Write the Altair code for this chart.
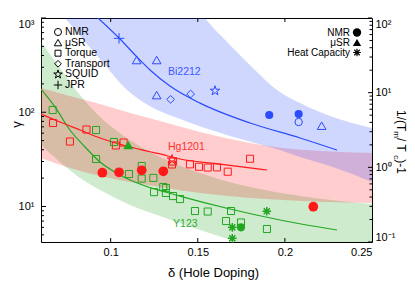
import altair as alt
import pandas as pd

FONT = "Liberation Sans"
BLUE = "#2a4bff"
RED = "#ff1a1a"
GREEN = "#22a622"

# ---------------- data ----------------
delta_domain = [0.06, 0.25]
gamma_domain = [4.2, 1000]
ratio_domain = [0.1, 100]

# open symbols, left axis (gamma)
bi_method = ["JPR", "μSR", "μSR", "μSR", "μSR", "Transport", "Transport", "SQUID", "NMR"]
bi_delta = [0.1048, 0.1149, 0.1264, 0.1264, 0.2211, 0.1344, 0.1459, 0.1599, 0.2079]
bi_gamma = [609, 358, 358, 152, 72.0, 137, 156, 169, 78.8]

hg_method = ["Torque"] * 13 + ["SQUID"]
hg_delta = [0.0669, 0.0766, 0.0861, 0.1030, 0.1074, 0.1352, 0.1358, 0.1455, 0.1507,
            0.1557, 0.1610, 0.1672, 0.1800, 0.1352]
hg_gamma = [76.9, 48.9, 65.6, 44.4, 47.7, 27.9, 30.0, 28.0, 26.4, 25.9, 26.0, 23.4, 32.1, 31.5]

y_method = ["Torque"] * 20
y_delta = [0.0667, 0.0916, 0.1019, 0.0916, 0.1105, 0.1178, 0.1178, 0.1245, 0.1302, 0.1317,
           0.1249, 0.1317, 0.1358, 0.1398, 0.1484, 0.1557, 0.1691, 0.1662, 0.1748, 0.1897]
y_gamma = [105.6, 64.8, 48.3, 31.9, 22.1, 26.9, 19.8, 20.1, 16.1, 15.7,
           14.2, 13.9, 12.9, 12.0, 8.95, 8.84, 8.95, 7.01, 6.76, 5.77]

# filled symbols, right axis (1/(Tm/Tc)-1)
nmr_series = ["Bi2212", "Bi2212", "Hg1201", "Hg1201", "Hg1201", "Hg1201", "Hg1201", "Y123"]
nmr_delta = [0.1910, 0.2079, 0.0952, 0.1048, 0.1178, 0.1302, 0.2163, 0.1748]
nmr_ratio = [5.02, 5.18, 0.847, 0.858, 0.913, 0.885, 0.297, 0.157]
musr_delta = [0.1101]
musr_ratio = [1.99]
heat_delta = [0.1698, 0.1896, 0.1698]
heat_ratio = [0.157, 0.258, 0.112]

# fitted curves
bi_line_delta = [0.0927, 0.1048, 0.1151, 0.1226, 0.1340, 0.1513, 0.1800, 0.2087, 0.2299]
bi_line_gamma = [1000, 613, 386, 281, 190, 125, 76.9, 53.3, 39.7]
hg_line_delta = [0.0600, 0.0709, 0.0824, 0.0939, 0.1111, 0.1283, 0.1398, 0.1627, 0.1897]
hg_line_gamma = [95.8, 78.8, 64.8, 53.3, 42.8, 36.1, 31.9, 28.2, 24.4]
y_line_delta = [0.0600, 0.0680, 0.0766, 0.0853, 0.0939, 0.1053, 0.1168, 0.1398, 0.1685, 0.1972, 0.2299]
y_line_gamma = [176, 114, 64.8, 42.8, 29.6, 21.6, 17.3, 12.9, 9.40, 7.19, 5.63]

# shaded bands
bi_band_delta = [0.0738, 0.0853, 0.0967, 0.1082, 0.1226, 0.1369, 0.1541, 0.1685, 0.1828,
                 0.1955, 0.2087, 0.2259, 0.2500]
bi_band_hi = [3000, 3000, 3000, 3000, 3000, 3000, 1000, 517, 281, 172, 125, 91.2, 68.0]
bi_band_lo = [1000, 556, 317, 181, 116, 89.0, 68.0, 56.0, 47.2, 40.7, 33.5, 26.9, 18.2]
hg_band_delta = [0.0600, 0.0766, 0.0939, 0.1111, 0.1283, 0.1513, 0.1800, 0.1989, 0.2201, 0.2500]
hg_band_hi = [181, 149, 122, 98.1, 80.7, 61.7, 47.2, 41.7, 38.8, 36.9]
hg_band_lo = [32.7, 25.6, 21.1, 18.2, 16.1, 13.9, 12.3, 11.7, 11.2, 10.9]
y_band_delta = [0.0600, 0.0709, 0.0824, 0.0939, 0.1111, 0.1283, 0.1513, 0.1725, 0.1800, 0.2087, 0.2500]
y_band_hi = [556, 295, 152, 89.0, 50.7, 33.5, 22.7, 17.3, 16.1, 12.9, 10.6]
y_band_lo = [44.9, 29.6, 20.1, 15.0, 10.4, 7.93, 5.63, 4.20, 3.81, 2.58, 1.47]

# series labels
series_names = ["Bi2212", "Hg1201", "Y123"]
series_label_delta = [0.1329, 0.1329, 0.1358]
series_label_gamma = [267, 42.8, 6.52]

# axis ticks
x_ticks = [0.1, 0.15, 0.2]
left_major = [10, 100, 1000]
left_minor = [5, 6, 7, 8, 9, 20, 30, 40, 50, 60, 70, 80, 90, 200, 300, 400, 500, 600, 700, 800, 900]
right_major = [0.1, 1, 10, 100]
right_minor = [0.2, 0.3, 0.4, 0.5, 0.6, 0.7, 0.8, 0.9, 2, 3, 4, 5, 6, 7, 8, 9,
               20, 30, 40, 50, 60, 70, 80, 90]

left_legend = ["NMR", "μSR", "Torque", "Transport", "SQUID", "JPR"]
right_legend = ["NMR", "μSR", "Heat Capacity"]

# ---------------- chart ----------------
W, H = 331, 224
STAR = "M0,-1L0.2245,-0.309L0.9511,-0.309L0.3633,0.118L0.5878,0.809L0,0.382L-0.5878,0.809L-0.3633,0.118L-0.9511,-0.309L-0.2245,-0.309Z"
PLUS = "M-1,0L1,0M0,-1L0,1"
ASTER = "M-1,0L1,0M0,-1L0,1M-0.7,-0.7L0.7,0.7M-0.7,0.7L0.7,-0.7"
color_scale = alt.Scale(domain=series_names, range=[BLUE, RED, GREEN])

x_scale = alt.Scale(domain=delta_domain, nice=False, zero=False)
y_scale = alt.Scale(type="log", domain=gamma_domain, nice=False)
r_scale = alt.Scale(type="log", domain=ratio_domain, nice=False)

x_axis = alt.Axis(title="δ (Hole Doping)", values=[0.1, 0.15, 0.2, 0.25], format=".2~f",
                  ticks=False, tickSize=0, domain=False, grid=False, labelFlush=True,
                  labelPadding=4, labelFontSize=11, titleFontSize=13, titleX=172, titleY=30,
                  titleAlign="center", titleBaseline="middle")
y_axis = alt.Axis(title="γ", values=[10, 100, 1000],
                  labelExpr="datum.value > 500 ? '10³' : datum.value > 50 ? '10²' : '10¹'",
                  ticks=False, tickSize=0, domain=False, grid=False, labelFlush=True,
                  labelPadding=7, labelFontSize=11, titleFontSize=13, titleX=-25, titleY=106,
                  titleAngle=270, titleAlign="center", titleBaseline="middle")
r_axis = alt.Axis(orient="right", title="", values=[0.1, 1, 10, 100],
                  labelExpr="datum.value < 0.5 ? '10⁻¹' : datum.value < 5 ? '10⁰' : datum.value < 50 ? '10¹' : '10²'",
                  ticks=False, tickSize=0, domain=False, grid=False, labelFlush=True,
                  labelPadding=3, labelFontSize=11)


def X(field="delta"):
    return alt.X(f"{field}:Q", scale=x_scale, axis=x_axis)


def YL(field="gamma"):
    return alt.Y(f"{field}:Q", scale=y_scale, axis=y_axis)


def YR(field="ratio"):
    return alt.Y(f"{field}:Q", scale=r_scale, axis=r_axis)


ONE = pd.DataFrame({"k": [0]})

left_layers = []

# bands
for d, hi, lo, col in [(y_band_delta, y_band_hi, y_band_lo, GREEN),
                       (hg_band_delta, hg_band_hi, hg_band_lo, RED),
                       (bi_band_delta, bi_band_hi, bi_band_lo, BLUE)]:
    df = pd.DataFrame({"delta": d, "hi": hi, "lo": lo})
    left_layers.append(
        alt.Chart(df).mark_area(clip=True, opacity=0.22, color=col, interpolate="monotone")
        .encode(x=X(), y=YL("hi"), y2=alt.Y2("lo:Q"))
    )

# lines
for d, g, col in [(y_line_delta, y_line_gamma, GREEN), (hg_line_delta, hg_line_gamma, RED),
                  (bi_line_delta, bi_line_gamma, BLUE)]:
    df = pd.DataFrame({"delta": d, "gamma": g})
    left_layers.append(
        alt.Chart(df).mark_line(clip=True, color=col, strokeWidth=1.2, interpolate="monotone")
        .encode(x=X(), y=YL())
    )

# open symbols
open_df = pd.DataFrame({
    "series": ["Bi2212"] * len(bi_delta) + ["Hg1201"] * len(hg_delta) + ["Y123"] * len(y_delta),
    "method": bi_method + hg_method + y_method,
    "delta": bi_delta + hg_delta + y_delta,
    "gamma": bi_gamma + hg_gamma + y_gamma,
})
method_style = {"NMR": ("circle", 55), "μSR": ("triangle-up", 75), "Torque": ("square", 50),
                "Transport": ("diamond", 60), "SQUID": (STAR, 100), "JPR": (PLUS, 110)}
for m, (shp, sz) in method_style.items():
    sub = open_df[open_df["method"] == m]
    if len(sub) == 0:
        continue
    left_layers.append(
        alt.Chart(sub).mark_point(filled=False, shape=shp, size=sz, strokeWidth=1, opacity=1)
        .encode(x=X(), y=YL(), color=alt.Color("series:N", scale=color_scale, legend=None))
    )

# series labels
lab_df = pd.DataFrame({"series": series_names, "delta": series_label_delta, "gamma": series_label_gamma})
left_layers.append(
    alt.Chart(lab_df).mark_text(align="left", baseline="middle", fontSize=10.5, font=FONT, opacity=0.9)
    .encode(x=X(), y=YL(), text="series:N", color=alt.Color("series:N", scale=color_scale, legend=None))
)

# inward ticks
left_layers.append(alt.Chart(pd.DataFrame({"gamma": left_major})).mark_rule(color="black")
                   .encode(y=YL(), x=alt.value(0), x2=alt.value(5)))
left_layers.append(alt.Chart(pd.DataFrame({"gamma": left_minor})).mark_rule(color="black")
                   .encode(y=YL(), x=alt.value(0), x2=alt.value(3)))
left_layers.append(alt.Chart(pd.DataFrame({"delta": x_ticks})).mark_rule(color="black")
                   .encode(x=X(), y=alt.value(0), y2=alt.value(4)))
left_layers.append(alt.Chart(pd.DataFrame({"delta": x_ticks})).mark_rule(color="black")
                   .encode(x=X(), y=alt.value(H), y2=alt.value(H - 4)))

# left legend (open symbols)
left_shapes = [("circle", 50), ("triangle-up", 55), ("square", 35), ("diamond", 45), (STAR, 80), (PLUS, 70)]
for i, (lab, (shp, sz)) in enumerate(zip(left_legend, left_shapes)):
    yy = 14 + 10.6 * i
    left_layers.append(alt.Chart(ONE).mark_point(filled=False, shape=shp, size=sz, color="black",
                                                  strokeWidth=1, opacity=1)
                       .encode(x=alt.value(17), y=alt.value(yy)))
    left_layers.append(alt.Chart(ONE).mark_text(align="left", baseline="middle", fontSize=10.5,
                                                 font=FONT, color="black")
                       .encode(x=alt.value(24), y=alt.value(yy), text=alt.value(lab)))

# right legend (filled symbols)
right_shapes = [("circle", 70, True), ("triangle-up", 70, True), (ASTER, 60, False)]
for i, (lab, (shp, sz, fl)) in enumerate(zip(right_legend, right_shapes)):
    yy = 14.5 + 10.0 * i
    left_layers.append(alt.Chart(ONE).mark_point(filled=fl, shape=shp, size=sz, color="black",
                                                  strokeWidth=1.2, opacity=1)
                       .encode(x=alt.value(316), y=alt.value(yy)))
    left_layers.append(alt.Chart(ONE).mark_text(align="right", baseline="middle", fontSize=10,
                                                 font=FONT, color="black")
                       .encode(x=alt.value(309), y=alt.value(yy), text=alt.value(lab)))

# right axis title 1/(T_m / T_c )-1, drawn rotated in pieces for the subscripts
title_pieces = [("1/(T", 12, 0), ("m", 8, 1), (" / T", 12, 0), ("c", 8, 1), (" )-1", 12, 0)]
piece_len = [21.3, 6.7, 17.3, 4.0, 18.0]
yy = 92
for (txt, fs, is_sub), ln in zip(title_pieces, piece_len):
    left_layers.append(alt.Chart(ONE).mark_text(align="left", baseline="middle", angle=90,
                                                 fontSize=fs, font=FONT, color="black")
                       .encode(x=alt.value(355 if is_sub else 360), y=alt.value(yy), text=alt.value(txt)))
    yy += ln

left = alt.layer(*left_layers)

# ---- right-axis layers
right_layers = []
nmr_df = pd.DataFrame({"series": nmr_series, "delta": nmr_delta, "ratio": nmr_ratio})
for s, sz in [("Bi2212", 65), ("Hg1201", 95), ("Y123", 65)]:
    right_layers.append(
        alt.Chart(nmr_df[nmr_df["series"] == s]).mark_point(filled=True, shape="circle", size=sz, opacity=1)
        .encode(x=X(), y=YR(), color=alt.Color("series:N", scale=color_scale, legend=None))
    )
right_layers.append(
    alt.Chart(pd.DataFrame({"delta": musr_delta, "ratio": musr_ratio})).mark_point(
        filled=True, shape="triangle-up", size=100, color=GREEN, opacity=1)
    .encode(x=X(), y=YR())
)
right_layers.append(
    alt.Chart(pd.DataFrame({"delta": heat_delta, "ratio": heat_ratio})).mark_point(
        filled=False, shape=ASTER, size=75, color=GREEN, strokeWidth=1.5, opacity=1)
    .encode(x=X(), y=YR())
)
right_layers.append(alt.Chart(pd.DataFrame({"ratio": right_major})).mark_rule(color="black")
                    .encode(y=YR(), x=alt.value(W), x2=alt.value(W - 4)))
right_layers.append(alt.Chart(pd.DataFrame({"ratio": right_minor})).mark_rule(color="black")
                    .encode(y=YR(), x=alt.value(W), x2=alt.value(W - 2.5)))
right = alt.layer(*right_layers)

chart = (
    alt.layer(left, right)
    .resolve_scale(y="independent")
    .properties(width=W, height=H, autosize=alt.AutoSizeParams(type="none"),
                padding={"left": 33, "top": 10, "right": 35, "bottom": 38}, background="white")
    .configure_view(stroke="black", strokeWidth=1)
    .configure_axis(labelFont=FONT, titleFont=FONT, labelColor="black", titleColor="black",
                    titleFontWeight="normal")
    .configure_text(font=FONT)
)

chart.save("out.html", embed_options={"renderer": "svg", "actions": False})
